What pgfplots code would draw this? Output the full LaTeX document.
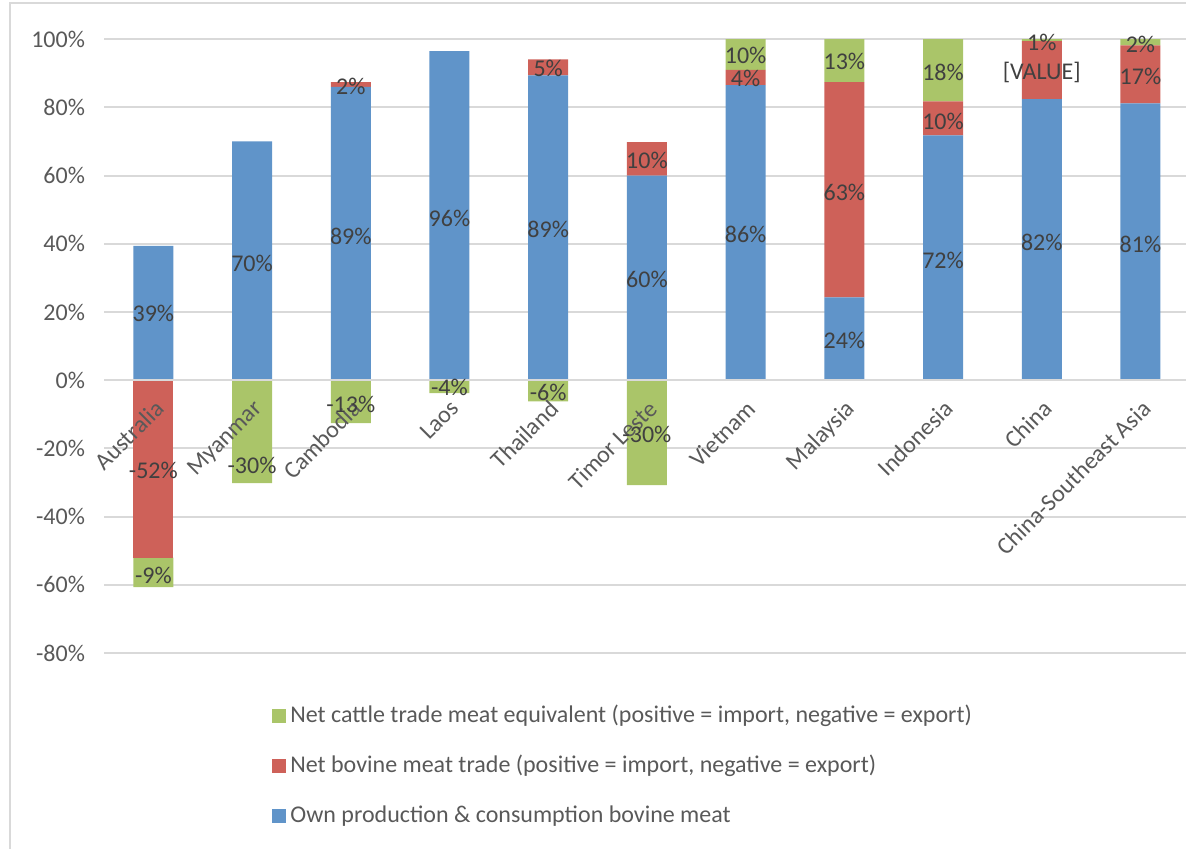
\documentclass[border=0pt]{standalone}
\usepackage{pgfplots}
\pgfplotsset{compat=1.18}
\usepackage{pgfplotstable}
\usepackage{fontspec}
\setmainfont{Carlito}

\definecolor{ownblue}{RGB}{96,148,201}
\definecolor{bovred}{RGB}{206,97,89}
\definecolor{catgreen}{RGB}{170,197,105}
\definecolor{gridgray}{RGB}{217,217,217}
\definecolor{ticktext}{RGB}{89,89,89}
\definecolor{labtext}{RGB}{64,64,64}

% shares of consumption (%), positive and negative parts stacked separately
\pgfplotstableread{
x own  redpos greenpos redneg greenneg
0  39.4  0     0     -52   -8.7
1  70.0  0     0      0   -30.2
2  86.0  1.4   0      0   -12.6
3  96.5  0     0      0    -3.8
4  89.4  4.7   0      0    -6.2
5  60.0  9.8   0      0   -30.8
6  86.5  4.5   9.0    0     0
7  24.3 63.1  12.6    0     0
8  71.8 10.0  18.2    0     0
9  82.4 17.0   0.6    0     0
10 81.2 17.0   1.8    0     0
}\shares

\pgfplotstableread{
x  y     lab
0  19.6  39\%
0  -26.4 -52\%
0  -57.2 -9\%
1  34.3  70\%
1  -24.9 -30\%
2  42.2  89\%
2  86.2  2\%
2  -7.0  -13\%
3  47.5  96\%
3  -2.1  -4\%
4  44.3  89\%
4  91.5  5\%
4  -3.5  -6\%
5  29.6  60\%
5  64.5  10\%
5  -15.8 -30\%
6  42.8  86\%
6  88.6  4\%
6  95.3  10\%
7  11.7  24\%
7  55.1  63\%
7  93.5  13\%
8  35.2  72\%
8  76.0  10\%
8  90.3  18\%
9  40.5  82\%
9  90.3  {[VALUE]}
9  99.1  1\%
10 39.9  81\%
10 89.1  17\%
10 98.5  2\%
}\labels

\pgfplotsset{
  frame/.style={at={(52pt,98pt)}, anchor=south west, scale only axis,
    width=542.9pt, height=306.9pt, xmin=-0.5, xmax=10.5, ymin=-80, ymax=100,
    enlargelimits=false},
  sq/.style={legend image code/.code={\fill[##1] (0pt,-3.5pt) rectangle (7pt,3.5pt);}},
}

\begin{document}
\begin{tikzpicture}
\path[use as bounding box] (0,0) rectangle (593pt,424.5pt);
\draw[gridgray, line width=1pt] (5pt,0) -- (5pt,423pt) -- (600pt,423pt);

\begin{axis}[frame, ybar stacked, bar width=20pt,
  axis line style={draw=none}, major tick length=0pt,
  ymajorgrids, grid style={gridgray, line width=1pt},
  ytick={-80,-60,...,100},
  yticklabels={-80\%,-60\%,-40\%,-20\%,0\%,20\%,40\%,60\%,80\%,100\%},
  xtick=\empty,
  tick label style={font=\fontsize{12}{14}\selectfont, text=ticktext},
  yticklabel style={xshift=-6pt},
  reverse legend,
  legend style={at={(0.1547,-0.078)}, anchor=north west, draw=none, fill=none,
    inner sep=0pt, row sep=10pt, font=\fontsize{12}{14}\selectfont, text=ticktext,
    nodes={text height=8.5pt, text depth=2.5pt, inner sep=2pt}},
  legend cell align=left,
]
\addplot[fill=ownblue, draw=none, sq] table[x=x, y=own] {\shares};
\addlegendentry{Own production \& consumption bovine meat}
\addplot[fill=bovred, draw=none, sq] table[x=x, y=redpos] {\shares};
\addlegendentry{Net bovine meat trade (positive = import, negative = export)}
\addplot[fill=catgreen, draw=none, sq] table[x=x, y=greenpos] {\shares};
\addlegendentry{Net cattle trade meat equivalent (positive = import, negative = export)}
\end{axis}

\begin{axis}[frame, hide axis, ybar stacked, bar width=20pt]
\addplot[fill=bovred, draw=none] table[x=x, y=redneg] {\shares};
\addplot[fill=catgreen, draw=none] table[x=x, y=greenneg] {\shares};
\end{axis}

\begin{axis}[frame, clip=false, axis line style={draw=none},
  major tick length=0pt, ytick=\empty,
  xtick={0,...,10},
  xticklabels={Australia,Myanmar,Cambodia,Laos,Thailand,Timor Leste,Vietnam,Malaysia,Indonesia,China,China-Southeast Asia},
  xticklabel style={font=\fontsize{12}{14}\selectfont, text=ticktext,
    yshift=132pt, rotate=45, anchor=north east},
]
\draw[gridgray, line width=1pt] (axis cs:-0.5,0) -- (axis cs:10.5,0);
\addplot[draw=none, nodes near coords, point meta=explicit symbolic,
  every node near coord/.append style={anchor=center, text=labtext,
    font=\fontsize{12}{14}\selectfont}]
  table[x=x, y=y, meta=lab] {\labels};
\end{axis}
\end{tikzpicture}
\end{document}
